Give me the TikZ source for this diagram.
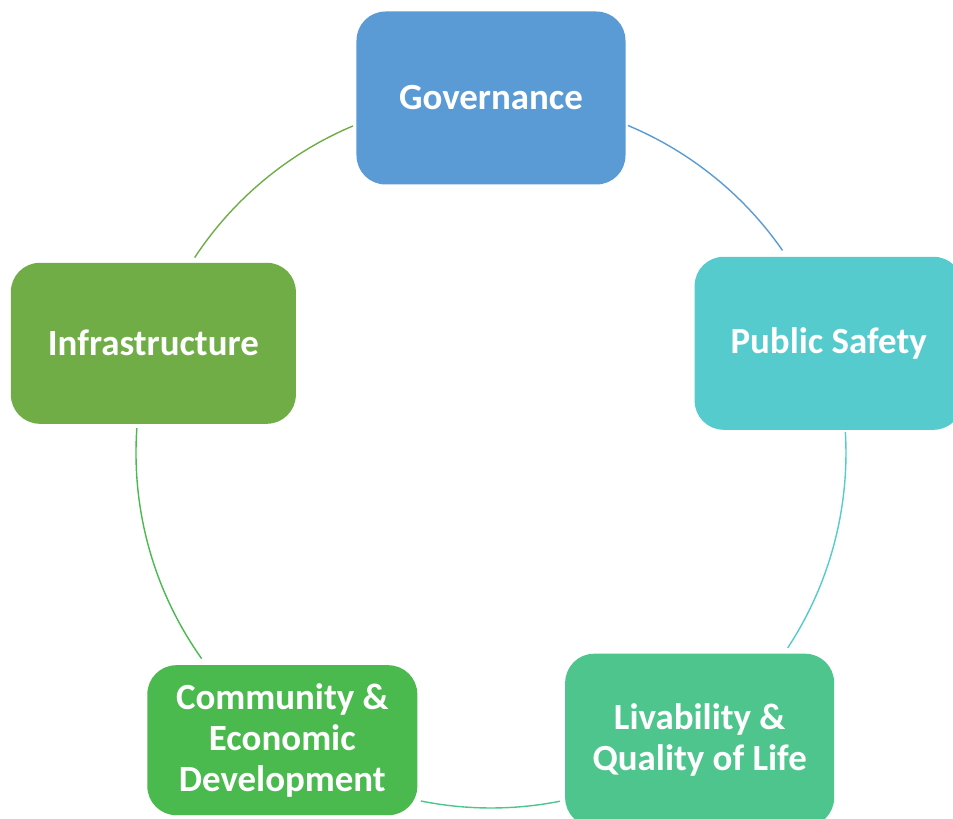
\documentclass[tikz,border=0pt]{standalone}
\usepackage{fontspec}
\setmainfont{Carlito}
\usetikzlibrary{positioning}
\definecolor{gov}{HTML}{5B9BD5}
\definecolor{saf}{HTML}{55CBCD}
\definecolor{liv}{HTML}{4FC58E}
\definecolor{com}{HTML}{4ABA4F}
\definecolor{inf}{HTML}{70AD47}
\begin{document}
\begin{tikzpicture}[x=0.02cm,y=0.02cm,
	box/.style={rounded corners=0.58cm,text=white,align=center,inner sep=0pt,font=\bfseries\fontsize{21}{23.3}\selectfont},
	link/.style={line width=0.8pt}]
	\useasboundingbox (-491,-365) rectangle (462,453);
	\clip (-491,-365) rectangle (462,453);
	\foreach \ang/\col/\w/\h/\txt [count=\n] in {90/gov/269/173/Governance,18/saf/268/173/Public Safety,-54/liv/269/173/{Livability \&\\Quality of Life},234/com/270/150/{Community \&\\Economic\\Development},162/inf/285/161/Infrastructure}
		\node[box,fill=\col,minimum width=\w*0.02cm,minimum height=\h*0.02cm](N\n) at (\ang:355){\txt};
	
	% arcs of the cycle
	\foreach \a/\b/\col [count=\n] in {67.3/34.8/gov,3.4/-33.3/saf,-78.8/-101.4/liv,-144.6/-184/com,146.6/112.9/inf}{
		\coordinate (A\n) at (\a:355);
		\draw[link,\col] (A\n) arc[start angle=\a,end angle=\b,radius=355];
	}
\end{tikzpicture}
\end{document}
